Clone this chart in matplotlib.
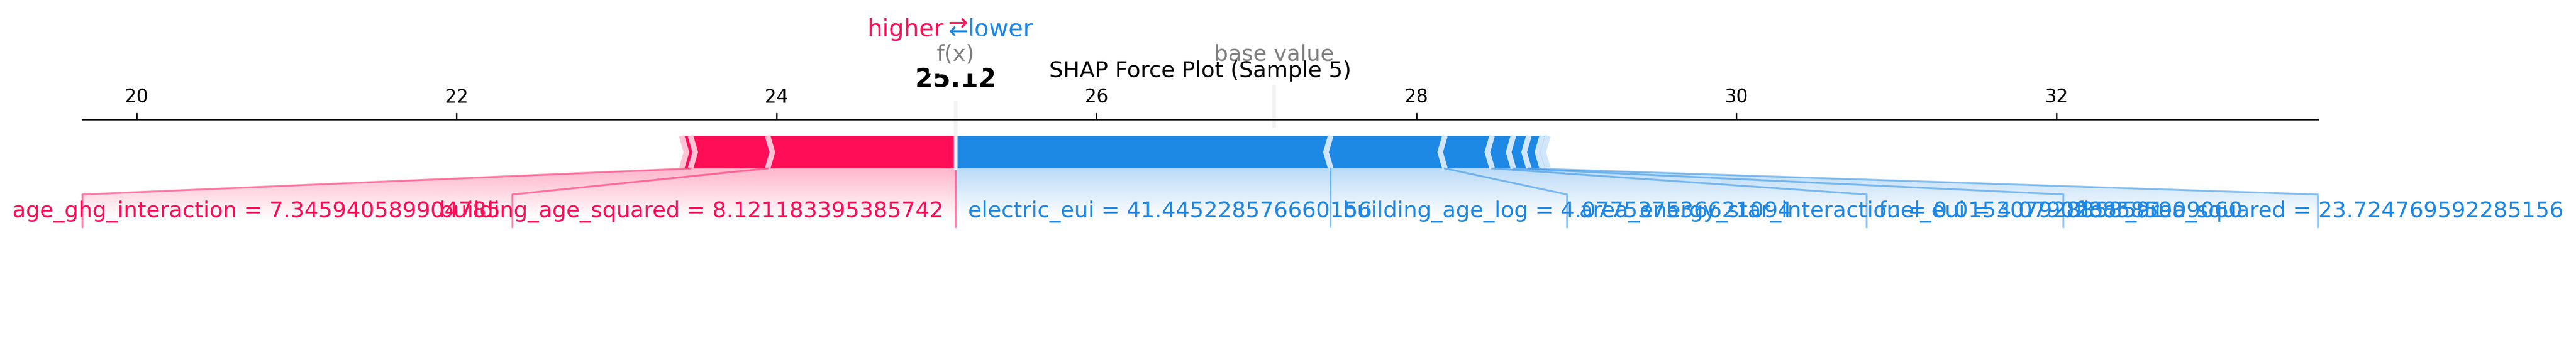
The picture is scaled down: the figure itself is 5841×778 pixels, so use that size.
import numpy as np
import matplotlib
matplotlib.use("Agg")
import matplotlib.pyplot as plt
from matplotlib import lines
from matplotlib.path import Path
from matplotlib.patches import PathPatch
from matplotlib.colors import LinearSegmentedColormap
from matplotlib.font_manager import FontProperties

# Explanation of sample 5 (shap force plot, identity link)
BASE_VALUE = 27.109
OUT_NAME = "f(x)"
TITLE = "SHAP Force Plot (Sample 5)"

# features pushing the prediction higher (largest first)
pos_names = ["building_age_squared", "age_ghg_interaction", "other_pos_1"]
pos_values = ["8.121183395385742", "7.345940589904785", ""]
pos_effects = [1.176, 0.482, 0.055]

# features pushing the prediction lower (largest first)
neg_names = ["electric_eui", "building_age_log", "area_energy_star_interaction",
             "fuel_eui", "floor_area_squared", "other_neg_1", "other_neg_2"]
neg_values = ["41.445228576660156", "4.077537536621094", "0.015307928858591",
              "4.0790288585909060", "23.724769592285156", "", ""]
neg_effects = [-2.344, -0.714, -0.295, -0.133, -0.097, -0.083, -0.036]

RED, RED_LIGHT = "#FF0D57", "#FFC3D5"
BLUE, BLUE_LIGHT = "#1E88E5", "#D1E6FA"
MIN_PERC = 0.05
PAD_PT = 4  # text bbox pad used when measuring the labels
# labels were laid out on the default 20x3 figure (axes 15.5 in wide)
MEASURE_AX_IN = 20 * 0.775

out_value = BASE_VALUE + sum(pos_effects) + sum(neg_effects)

# cumulative bar ends
neg_pos = out_value + np.cumsum(np.abs(neg_effects))
pos_pos = out_value - np.cumsum(np.abs(pos_effects))
total_neg = neg_pos.max() - neg_pos.min()
total_pos = pos_pos.max() - pos_pos.min()
offset_text = (abs(total_neg) + abs(total_pos)) * 0.04

fig = plt.figure(figsize=(5841 / 300, 778 / 300), dpi=300)
ax = fig.add_axes([0.032, 0.0334, 0.8678, 0.6183])
renderer = fig.canvas.get_renderer()

ax.set_ylim(-0.5, 0.15)
padding = max(abs(total_pos) * 0.2, abs(total_neg) * 0.2)
ax.set_xlim(min(pos_pos.min(), BASE_VALUE) - padding,
            max(neg_pos.max(), BASE_VALUE) + padding)
ax.tick_params(top=True, bottom=False, left=False, right=False,
               labelleft=False, labeltop=True, labelbottom=False)
ax.locator_params(axis="x", nbins=12)
for key, spine in ax.spines.items():
    if key != "top":
        spine.set_visible(False)

width_bar = 0.1
width_sep = (ax.get_xlim()[1] - ax.get_xlim()[0]) / 200


def draw_bars(positions, feature_type):
    pre_val = out_value
    for i, p in enumerate(positions):
        if feature_type == "positive":
            left, right = p, pre_val
            indent = abs(width_sep)
            colors = [RED, RED_LIGHT]
        else:
            left, right = pre_val, p
            indent = -abs(width_sep)
            colors = [BLUE, BLUE_LIGHT]
        pre_val = p
        if i == 0:
            if feature_type == "positive":
                pts = [[left, 0], [right, 0], [right, width_bar], [left, width_bar],
                       [left + indent, width_bar / 2]]
            else:
                pts = [[right, 0], [left, 0], [left, width_bar], [right, width_bar],
                       [right + indent, width_bar / 2]]
        else:
            pts = [[left, 0], [right, 0], [right + indent * 0.9, width_bar / 2],
                   [right, width_bar], [left, width_bar], [left + indent * 0.9, width_bar / 2]]
        ax.add_patch(plt.Polygon(pts, closed=True, fill=True, facecolor=colors[0], linewidth=0))
    # separators on top of the bars
    for p in positions:
        if feature_type == "positive":
            indent, colors = abs(width_sep), [RED, RED_LIGHT]
        else:
            indent, colors = -abs(width_sep), [BLUE, BLUE_LIGHT]
        sep = [[p, 0], [p + indent, width_bar / 2], [p, width_bar]]
        ax.add_patch(plt.Polygon(sep, closed=False, fill=False, edgecolor=colors[1], lw=3))


def text_width_data(txt):
    w_in = txt.get_window_extent(renderer).width / fig.dpi + PAD_PT / 72
    lo, hi = ax.get_xlim()
    return w_in * (hi - lo) / MEASURE_AX_IN


def draw_labels(positions, names, values, feature_type, total_effect):
    start_text = out_value
    pre_val = out_value
    if feature_type == "positive":
        colors, align, sign = [RED, RED_LIGHT], "right", 1
        line = lines.Line2D([pre_val, pre_val], [0, -0.18], lw=1.0, alpha=0.5, color=colors[0])
        line.set_clip_on(False)
        ax.add_line(line)
    else:
        colors, align, sign = [BLUE, BLUE_LIGHT], "left", -1

    box_end = out_value
    for p, name, v in zip(positions, names, values):
        if abs(p - pre_val) / abs(total_effect) < MIN_PERC:
            break
        val = p
        label = name if v == "" else f"{name} = {v}"
        x = start_text - sign * offset_text
        txt = ax.text(x, -0.15, label, fontsize=12, color=colors[0],
                      horizontalalignment=align, va="baseline")
        box_end_ = x - sign * text_width_data(txt)
        if sign * box_end_ > sign * val:
            line = lines.Line2D([val, val], [0, -0.18], lw=1.0, alpha=0.5, color=colors[0])
            start_text = val
            box_end = val
        else:
            box_end = box_end_ - sign * offset_text
            line = lines.Line2D([val, box_end, box_end], [0, -0.08, -0.18],
                                lw=1.0, alpha=0.5, color=colors[0])
            start_text = box_end
        line.set_clip_on(False)
        ax.add_line(line)
        pre_val = p

    # shaded region under the bar
    path = Path([[out_value, 0], [pre_val, 0], [box_end, -0.08], [box_end, -0.2],
                 [out_value, -0.2], [out_value, 0]])
    patch = PathPatch(path, facecolor="none", edgecolor="none")
    ax.add_patch(patch)

    lo, hi = ax.get_xlim()
    if box_end < lo:
        ax.set_xlim(box_end, hi)
    if box_end > hi:
        ax.set_xlim(lo, box_end)

    cm = LinearSegmentedColormap.from_list("cm", [colors[0], "#FFFFFF"])
    _, z2 = np.meshgrid(np.linspace(0, 10), np.linspace(-10, 10))
    im = ax.imshow(z2, interpolation="quadric", cmap=cm, vmax=0.01, alpha=0.3,
                   origin="lower", extent=[out_value, box_end, 0, -0.31], aspect="auto")
    im.set_clip_path(patch)


draw_bars(neg_pos, "negative")
draw_bars(pos_pos, "positive")

total_effect = abs(total_neg) + total_pos
draw_labels(neg_pos, neg_names, neg_values, "negative", total_effect)
draw_labels(pos_pos, pos_names, pos_values, "positive", total_effect)

# higher / lower legend
ax.text(out_value - offset_text, 0.405, "higher", fontsize=13, color=RED, ha="right")
ax.text(out_value + offset_text, 0.405, "lower", fontsize=13, color=BLUE, ha="left")
ax.text(out_value, 0.4, r"$\leftarrow$", fontsize=13, color=BLUE, ha="center")
ax.text(out_value, 0.425, r"$\rightarrow$", fontsize=13, color=RED, ha="center")

# base value marker
line = lines.Line2D([BASE_VALUE, BASE_VALUE], [0.13, 0.25], lw=2.0, color="#F2F2F2")
line.set_clip_on(False)
ax.add_line(line)
t = ax.text(BASE_VALUE, 0.33, "base value", fontsize=12, alpha=0.5, ha="center")
t.set_bbox(dict(facecolor="white", edgecolor="white"))

# output value marker
line = lines.Line2D([out_value, out_value], [0, 0.24], lw=2.0, color="#F2F2F2")
line.set_clip_on(False)
ax.add_line(line)
bold = FontProperties(weight="bold")
t = ax.text(out_value, 0.25, f"{out_value:.2f}", fontproperties=bold, fontsize=14, ha="center")
t.set_bbox(dict(facecolor="white", edgecolor="white"))
t = ax.text(out_value, 0.33, OUT_NAME, fontsize=12, alpha=0.5, ha="center")
t.set_bbox(dict(facecolor="white", edgecolor="white"))

ax.set_title(TITLE)
fig.savefig("out.png", dpi=300)
